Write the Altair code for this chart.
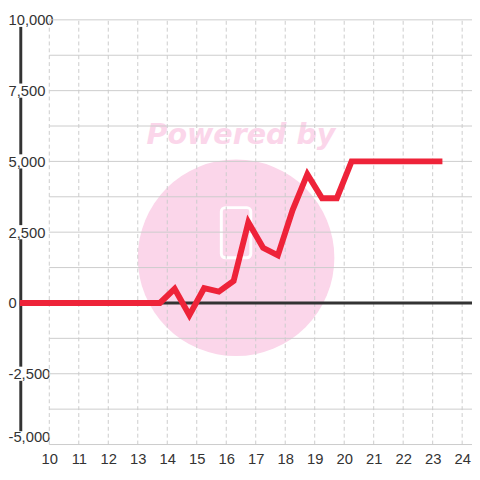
import altair as alt
import pandas as pd

# ---- data ----
x_vals = [9, 13.75, 14.25, 14.75, 15.25, 15.75, 16.25, 16.75, 17.25, 17.75,
          18.25, 18.75, 19.25, 19.75, 20.25, 23.33]
y_vals = [0, 0, 500, -430, 520, 400, 780, 2850, 1950, 1680,
          3280, 4550, 3700, 3700, 5000, 5000]
y_ticks = [10000, 7500, 5000, 2500, 0, -2500, -5000]
x_ticks = list(range(10, 25))
h_grid = list(range(-5000, 10001, 1250))

PX_PER_UNIT_Y = 432 / 15000
X_MIN, X_MAX = 9, 9 + 460 / 30
Y_MIN, Y_MAX = -5000, 10000
Y_TOP = Y_MAX + 2 / PX_PER_UNIT_Y   # 2px headroom so only the bottom label gets flushed

W, H = 460, 434
RED = "#ee2339"
PINK = "#fbd6ea"
GRID = "#cccccc"
DARK = "#333333"
FONT = "Liberation Sans"

line_df = pd.DataFrame({"x": x_vals, "y": y_vals})
hgrid_df = pd.DataFrame({"y": h_grid, "x0": [10] * len(h_grid), "x1": [X_MAX] * len(h_grid)})
vgrid_df = pd.DataFrame({"x": x_ticks, "y0": [Y_MIN] * len(x_ticks), "y1": [Y_MAX] * len(x_ticks)})

# y axis line drawn in pieces, broken where the wide labels sit
gap = 250
segs = []
for hi, lo in zip(y_ticks[:-1], y_ticks[1:]):
    top = hi - (gap if hi != 0 else 0)
    bot = lo + (gap if lo != 0 else 0) + (220 if lo == Y_MIN else 0)
    segs.append({"a": top, "b": bot})
seg_df = pd.DataFrame(segs)

xscale = alt.Scale(domain=[X_MIN, X_MAX], nice=False, zero=False)
yscale = alt.Scale(domain=[Y_MIN, Y_TOP], nice=False, zero=False)
xaxis = alt.Axis(values=x_ticks, title=None, grid=False, domain=False, ticks=False,
                 labelPadding=7, labelFontSize=15, labelFont=FONT, labelColor=DARK,
                 format="d", labelFlush=False, labelOverlap=False)
yaxis = alt.Axis(values=y_ticks, title=None, grid=False, domain=False, ticks=False,
                 labelAlign="left", labelPadding=12,
                 labelFontSize=15, labelFont=FONT, labelColor=DARK, format=",.0f",
                 labelExpr="replace(datum.label, '\u2212', '-')",
                 labelFlush=1, labelOverlap=False)

one = pd.DataFrame({"k": [0]})

circle = alt.Chart(one).mark_circle(color=PINK, opacity=1).encode(
    x=alt.value(220), y=alt.value(244), size=alt.value(40000))
powered = alt.Chart(one).mark_text(
    text="Powered by", font="DejaVu Sans", fontSize=29, fontWeight="bold",
    fontStyle="italic", color=PINK, align="center", baseline="alphabetic").encode(
    x=alt.value(225), y=alt.value(128))
icon = alt.Chart(one).mark_rect(fill=None, stroke="white", strokeWidth=3, cornerRadius=4).encode(
    x=alt.value(205), x2=alt.value(235), y=alt.value(193), y2=alt.value(244))

hgrid = alt.Chart(hgrid_df).mark_rule(color=GRID, strokeWidth=1).encode(
    x=alt.X("x0:Q", scale=xscale, axis=xaxis),
    x2="x1:Q",
    y=alt.Y("y:Q", scale=yscale, axis=yaxis))
vgrid = alt.Chart(vgrid_df).mark_rule(color=GRID, strokeWidth=1, strokeDash=[4, 3]).encode(
    x=alt.X("x:Q", scale=xscale, axis=xaxis),
    y=alt.Y("y0:Q", scale=yscale, axis=yaxis),
    y2="y1:Q")
zero = alt.Chart(pd.DataFrame({"y": [0]})).mark_rule(color=DARK, strokeWidth=3).encode(
    y=alt.Y("y:Q", scale=yscale, axis=yaxis))
yline = alt.Chart(seg_df).mark_rule(color=DARK, strokeWidth=3).encode(
    x=alt.value(1),
    y=alt.Y("a:Q", scale=yscale, axis=yaxis),
    y2="b:Q")
line = alt.Chart(line_df).mark_line(color=RED, strokeWidth=6, strokeJoin="miter",
                                    strokeCap="butt").encode(
    x=alt.X("x:Q", scale=xscale, axis=xaxis),
    y=alt.Y("y:Q", scale=yscale, axis=yaxis))

chart = alt.layer(circle, powered, icon, hgrid, vgrid, zero, yline, line).properties(
    width=W, height=H,
    autosize=alt.AutoSizeParams(type="none"),
    padding={"left": 12, "top": 6, "right": 0, "bottom": 30},
    background="white",
).configure_view(stroke=None)

chart.save("out.html", embed_options={"renderer": "svg", "actions": False})
